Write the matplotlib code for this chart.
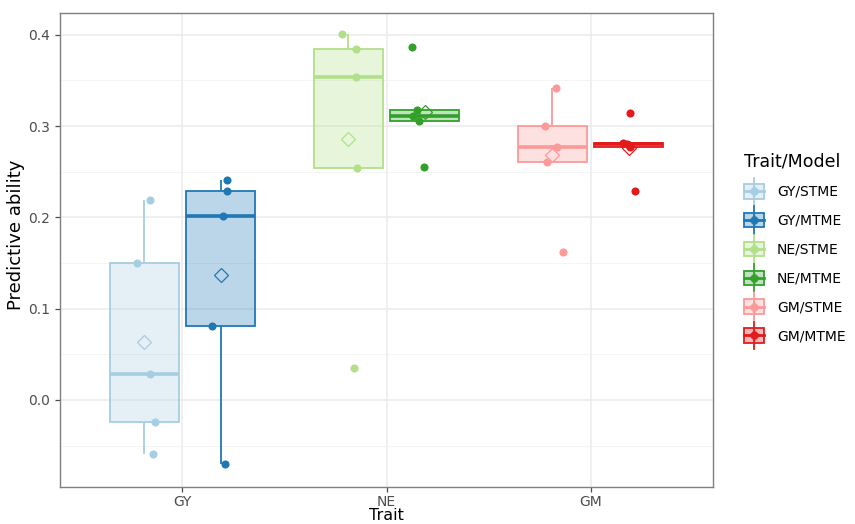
import matplotlib
matplotlib.use("Agg")
import matplotlib.pyplot as plt
import numpy as np
from matplotlib.patches import Rectangle
from matplotlib.lines import Line2D
from matplotlib.legend_handler import HandlerBase

# Predictive ability per trait and model (5 folds each)
traits = ["GY", "NE", "GM"]
models = ["STME", "MTME"]
gy_stme = [0.219, 0.150, 0.029, -0.024, -0.059]
gy_mtme = [0.241, 0.229, 0.2015, 0.0814, -0.070]
ne_stme = [0.4005, 0.385, 0.354, 0.254, 0.035]
ne_mtme = [0.3866, 0.3176, 0.3114, 0.3056, 0.2552]
gm_stme = [0.3417, 0.2997, 0.2771, 0.261, 0.1618]
gm_mtme = [0.3147, 0.2818, 0.2800, 0.2768, 0.2286]

groups = [
    ("GY/STME", 0, 0, gy_stme, "#A6CEE3"),
    ("GY/MTME", 0, 1, gy_mtme, "#1F78B4"),
    ("NE/STME", 1, 0, ne_stme, "#B2DF8A"),
    ("NE/MTME", 1, 1, ne_mtme, "#33A02C"),
    ("GM/STME", 2, 0, gm_stme, "#FB9A99"),
    ("GM/MTME", 2, 1, gm_mtme, "#E31A1C"),
]

# horizontal jitter of the fold points (in category units)
jitter = [
    [0.027, -0.034, 0.030, 0.051, 0.045],
    [0.029, 0.029, 0.010, -0.041, 0.023],
    [-0.031, 0.036, 0.038, 0.045, 0.029],
    [-0.061, -0.036, -0.058, -0.027, -0.006],
    [0.016, -0.034, 0.021, -0.026, 0.050],
    [0.007, -0.030, -0.010, 0.007, 0.028],
]

dodge = 0.1875
box_w = 0.3375

fig = plt.figure(figsize=(8.55, 5.24), dpi=100)
ax = fig.add_axes([60 / 855, 1 - 487 / 524, (713 - 60) / 855, (487 - 13) / 524])


def rgba(c, a):
    r, g, b = matplotlib.colors.to_rgb(c)
    return (r, g, b, a)


for gi, (name, ti, mi, vals, col) in enumerate(groups):
    v = np.array(vals)
    center = ti + (-dodge if mi == 0 else dodge)
    q1, med, q3 = np.percentile(v, [25, 50, 75])
    iqr = q3 - q1
    lo_lim, hi_lim = q1 - 1.5 * iqr, q3 + 1.5 * iqr
    wlo = v[v >= lo_lim].min()
    whi = v[v <= hi_lim].max()
    # whiskers
    ax.plot([center, center], [q3, whi], color=col, lw=1.3, zorder=2, solid_capstyle="butt")
    ax.plot([center, center], [wlo, q1], color=col, lw=1.3, zorder=2, solid_capstyle="butt")
    # box
    ax.add_patch(Rectangle((center - box_w / 2, q1), box_w, q3 - q1,
                           facecolor=rgba(col, 0.3), edgecolor=col, lw=1.3, zorder=2))
    ax.plot([center - box_w / 2, center + box_w / 2], [med, med], color=col, lw=2.6,
            zorder=3, solid_capstyle="butt")
    # mean
    ax.plot([center], [v.mean()], marker="D", ms=7.5, mfc="none", mec=col, mew=0.9, zorder=4)
    # fold points
    ax.scatter(center + np.array(jitter[gi]), v, s=34, color=col, zorder=5, linewidths=0)

ax.set_xlim(0.4 - 1, 3.6 - 1)
ax.set_ylim(-0.0953, 0.4239)
ax.set_xticks(range(len(traits)))
ax.set_xticklabels(traits)
ax.set_yticks([0.0, 0.1, 0.2, 0.3, 0.4])
ax.set_yticklabels(["0.0", "0.1", "0.2", "0.3", "0.4"])
ax.set_yticks(np.arange(-0.05, 0.42, 0.1), minor=True)
ax.grid(True, which="major", color="#EBEBEB", lw=1.1, zorder=0)
ax.grid(True, which="minor", axis="y", color="#F2F2F2", lw=0.6, zorder=0)
ax.set_axisbelow(True)
for s in ax.spines.values():
    s.set_color("#7F7F7F")
    s.set_linewidth(1.0)
ax.tick_params(colors="#4D4D4D", labelsize=10, length=3.5, width=0.9, which="major")
ax.tick_params(axis="x", pad=2.5)
ax.tick_params(which="minor", length=0)
for lab in ax.get_xticklabels() + ax.get_yticklabels():
    lab.set_color("#4D4D4D")

# axis titles
fig.text(16 / 855, 1 - 235 / 524, "Predictive ability", rotation=90, fontsize=13,
         ha="center", va="center", color="black")
fig.text(386 / 855, 1 - 508 / 524, "Trait", fontsize=11.5, ha="center", va="top", color="black")


class BoxKey(HandlerBase):
    def __init__(self, col):
        super().__init__()
        self.col = col

    def create_artists(self, legend, orig_handle, xdescent, ydescent, width, height, fontsize, trans):
        col = self.col
        cx = -xdescent + width / 2
        cy = -ydescent + height / 2
        bw, bh = width * 0.95, height * 0.9
        arts = [
            Line2D([cx, cx], [cy - height * 0.85, cy + height * 0.85], color=col, lw=1.3),
            Rectangle((cx - bw / 2, cy - bh / 2), bw, bh, facecolor=rgba(col, 0.3),
                      edgecolor=col, lw=1.3),
            Line2D([cx - bw / 2, cx + bw / 2], [cy, cy], color=col, lw=2.0),
            Line2D([cx], [cy], marker="D", ms=6.5, mfc=rgba(col, 0.6), mec="none"),
            Line2D([cx], [cy], marker="o", ms=5.5, color=col, mec="none"),
        ]
        for a in arts:
            a.set_transform(trans)
        return arts


handles = [Rectangle((0, 0), 1, 1) for _ in groups]
hmap = {h: BoxKey(g[4]) for h, g in zip(handles, groups)}
leg = fig.legend(handles, [g[0] for g in groups], handler_map=hmap,
                 loc="upper left", bbox_to_anchor=(731 / 855, 1 - 140 / 524),
                 frameon=False, fontsize=10, title="Trait/Model", title_fontsize=12.5,
                 handlelength=1.5, handleheight=1.4, labelspacing=0.92, handletextpad=0.9,
                 alignment="left")

fig.savefig("out.png", dpi=100)
